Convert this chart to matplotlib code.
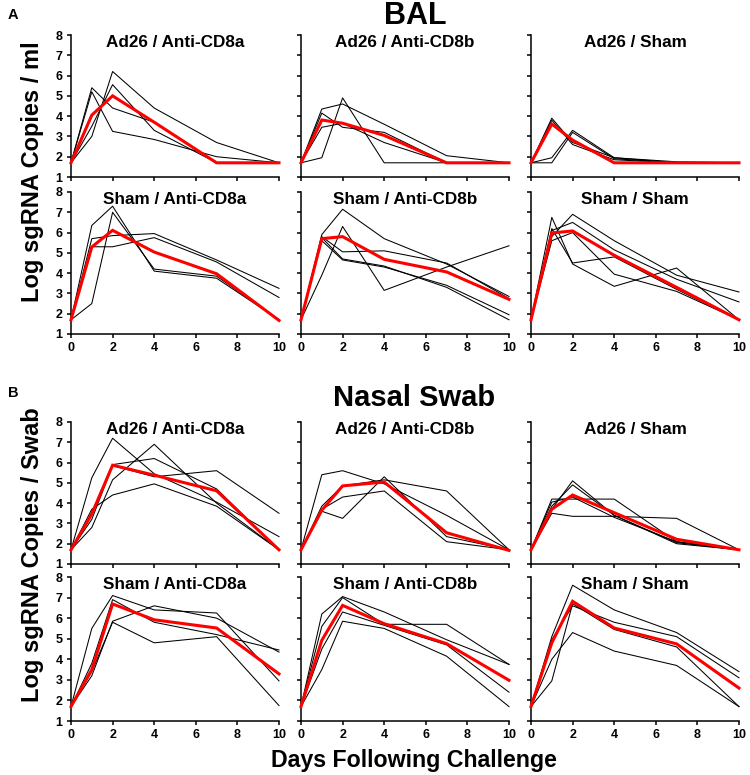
import matplotlib
matplotlib.use("Agg")
import matplotlib.pyplot as plt

plt.rcParams['font.family'] = ['Liberation Sans', 'DejaVu Sans']
plt.rcParams['font.weight'] = 'bold'

days = [0, 1, 2, 4, 7, 10]
x_ticks = [0, 2, 4, 6, 8, 10]
y_ticks = [1, 2, 3, 4, 5, 6, 7, 8]

titles = ["Ad26 / Anti-CD8a", "Ad26 / Anti-CD8b", "Ad26 / Sham",
          "Sham / Anti-CD8a", "Sham / Anti-CD8b", "Sham / Sham"]

# ---------------- BAL ----------------
bal_ad26_cd8a_animals = [
    [1.7, 5.4, 4.4, 3.7, 1.7, 1.7],
    [1.7, 5.2, 3.25, 2.85, 2.0, 1.7],
    [1.7, 3.0, 6.2, 4.4, 2.7, 1.7],
    [1.7, 3.5, 5.55, 3.3, 1.7, 1.7],
]
bal_ad26_cd8a_mean = [1.7, 4.05, 5.0, 3.7, 1.7, 1.7]

bal_ad26_cd8b_animals = [
    [1.7, 4.35, 4.6, 3.6, 2.05, 1.7],
    [1.7, 1.95, 4.9, 1.7, 1.7, 1.7],
    [1.7, 4.15, 3.45, 3.2, 1.7, 1.7],
    [1.7, 3.45, 3.65, 2.7, 1.7, 1.7],
]
bal_ad26_cd8b_mean = [1.7, 3.81, 3.65, 3.05, 1.7, 1.7]

bal_ad26_sham_animals = [
    [1.7, 3.9, 2.7, 1.95, 1.75, 1.7],
    [1.7, 3.8, 2.6, 1.85, 1.7, 1.7],
    [1.7, 1.95, 3.3, 1.95, 1.7, 1.7],
    [1.7, 1.7, 3.2, 1.9, 1.7, 1.7],
]
bal_ad26_sham_mean = [1.7, 3.61, 2.82, 1.7, 1.7, 1.7]

bal_sham_cd8a_animals = [
    [1.7, 6.35, 7.3, 4.1, 3.75, 1.7],
    [1.7, 2.5, 7.0, 4.2, 3.85, 1.7],
    [1.7, 5.7, 5.85, 5.95, 4.65, 3.25],
    [1.7, 5.3, 5.3, 5.75, 4.55, 2.8],
]
bal_sham_cd8a_mean = [1.7, 5.29, 6.11, 5.04, 3.97, 1.67]

bal_sham_cd8b_animals = [
    [1.7, 5.9, 7.15, 5.7, 4.45, 2.85],
    [1.7, 3.9, 6.3, 3.15, 4.3, 5.35],
    [1.7, 5.8, 5.05, 5.1, 4.5, 2.75],
    [1.7, 5.6, 4.65, 4.3, 3.4, 1.95],
    [1.7, 5.75, 4.7, 4.35, 3.3, 1.7],
]
bal_sham_cd8b_mean = [1.7, 5.7, 5.8, 4.68, 4.06, 2.71]

bal_sham_sham_animals = [
    [1.7, 6.75, 4.45, 3.35, 4.25, 1.7],
    [1.7, 5.8, 6.9, 5.6, 3.9, 3.07],
    [1.7, 6.1, 6.5, 5.15, 3.7, 2.58],
    [1.7, 6.2, 4.5, 4.8, 3.2, 1.7],
    [1.7, 5.6, 6.0, 3.95, 3.1, 1.7],
]
bal_sham_sham_mean = [1.7, 5.98, 6.08, 4.88, 3.3, 1.7]

# ---------------- Nasal Swab ----------------
ns_ad26_cd8a_animals = [
    [1.7, 5.25, 7.2, 5.45, 4.05, 2.35],
    [1.7, 2.8, 5.15, 6.9, 4.0, 1.7],
    [1.7, 3.5, 5.9, 6.2, 4.7, 1.7],
    [1.7, 3.7, 4.4, 4.95, 3.85, 1.7],
    [1.7, 3.2, 5.85, 5.3, 5.6, 3.5],
]
ns_ad26_cd8a_mean = [1.7, 3.47, 5.87, 5.38, 4.61, 1.7]

ns_ad26_cd8b_animals = [
    [1.7, 5.4, 5.6, 4.95, 3.4, 1.7],
    [1.7, 3.6, 3.25, 5.3, 2.35, 1.7],
    [1.7, 3.85, 4.85, 5.15, 4.6, 1.7],
    [1.7, 3.7, 4.3, 4.6, 2.1, 1.7],
]
ns_ad26_cd8b_mean = [1.7, 3.65, 4.85, 5.04, 2.54, 1.67]

ns_ad26_sham_animals = [
    [1.7, 4.2, 4.2, 4.2, 2.1, 1.7],
    [1.7, 3.5, 3.35, 3.35, 3.25, 1.7],
    [1.7, 3.7, 5.1, 3.4, 2.0, 1.7],
    [1.7, 3.85, 4.9, 3.4, 2.05, 1.7],
    [1.7, 4.05, 4.3, 3.3, 2.1, 1.7],
]
ns_ad26_sham_mean = [1.7, 3.7, 4.4, 3.53, 2.22, 1.7]

ns_sham_cd8a_animals = [
    [1.7, 5.5, 7.1, 6.4, 6.25, 2.95],
    [1.7, 3.8, 6.9, 5.8, 5.2, 4.45],
    [1.7, 3.2, 5.85, 6.6, 6.0, 4.35],
    [1.7, 3.4, 5.8, 4.8, 5.1, 1.75],
]
ns_sham_cd8a_mean = [1.7, 3.5, 6.69, 5.92, 5.52, 3.29]

ns_sham_cd8b_animals = [
    [1.7, 6.2, 7.05, 6.3, 4.95, 3.75],
    [1.7, 5.6, 7.0, 5.7, 5.7, 3.75],
    [1.7, 4.5, 6.3, 5.65, 4.7, 2.4],
    [1.7, 3.5, 5.85, 5.5, 4.15, 1.7],
]
ns_sham_cd8b_mean = [1.7, 4.92, 6.62, 5.73, 4.76, 2.98]

ns_sham_sham_animals = [
    [1.7, 5.1, 7.6, 6.4, 5.3, 3.4],
    [1.7, 4.95, 6.6, 5.8, 5.1, 3.1],
    [1.7, 2.95, 6.7, 5.45, 4.6, 1.7],
    [1.7, 4.0, 5.3, 4.4, 3.7, 1.7],
]
ns_sham_sham_mean = [1.7, 4.8, 6.82, 5.52, 4.75, 2.6]

bal_animals = [bal_ad26_cd8a_animals, bal_ad26_cd8b_animals, bal_ad26_sham_animals,
               bal_sham_cd8a_animals, bal_sham_cd8b_animals, bal_sham_sham_animals]
bal_means = [bal_ad26_cd8a_mean, bal_ad26_cd8b_mean, bal_ad26_sham_mean,
             bal_sham_cd8a_mean, bal_sham_cd8b_mean, bal_sham_sham_mean]
ns_animals = [ns_ad26_cd8a_animals, ns_ad26_cd8b_animals, ns_ad26_sham_animals,
              ns_sham_cd8a_animals, ns_sham_cd8b_animals, ns_sham_sham_animals]
ns_means = [ns_ad26_cd8a_mean, ns_ad26_cd8b_mean, ns_ad26_sham_mean,
            ns_sham_cd8a_mean, ns_sham_cd8b_mean, ns_sham_sham_mean]

W, H = 750, 775
fig = plt.figure(figsize=(7.5, 7.75), dpi=100)

col_left = [71, 301, 531]
col_w = 208
# (top, bottom) pixel rows
bal_rows = [(35, 177), (192, 334)]
ns_rows = [(422, 564), (577, 721)]


def make_panel(top, bottom, left, animals, mean, title, show_y, show_x):
    ax = fig.add_axes([left / W, 1 - bottom / H, col_w / W, (bottom - top) / H])
    for a in animals:
        ax.plot(days, a, color='black', lw=0.75, clip_on=False, zorder=2)
    ax.plot(days, mean, color='#ff0000', lw=2.2, clip_on=False, zorder=3,
            solid_joinstyle='miter')
    ax.set_xlim(0, 10)
    ax.set_ylim(1, 8)
    ax.set_xticks(x_ticks)
    ax.set_yticks(y_ticks)
    ax.spines['top'].set_visible(False)
    ax.spines['right'].set_visible(False)
    for s in ['left', 'bottom']:
        ax.spines[s].set_linewidth(1.1)
    ax.tick_params(direction='out', length=3, width=1.1, labelsize=9, pad=3)
    if not show_y:
        ax.set_yticklabels([])
    if not show_x:
        ax.set_xticklabels([])
    for lbl in ax.get_xticklabels() + ax.get_yticklabels():
        lbl.set_fontweight('bold')
    ax.text(0.5, 0.95, title, transform=ax.transAxes, ha='center', va='center',
            fontsize=12.3, fontweight='bold')
    return ax


for rows, animals_all, means_all in [(bal_rows, bal_animals, bal_means),
                                     (ns_rows, ns_animals, ns_means)]:
    for r, (top, bottom) in enumerate(rows):
        for c in range(3):
            i = r * 3 + c
            make_panel(top, bottom, col_left[c], animals_all[i], means_all[i],
                       titles[i], show_y=(c == 0), show_x=(r == 1))

fig.text(415 / W, 1 - 16 / H, "BAL", ha='center', va='center', fontsize=22, fontweight='bold')
fig.text(414 / W, 1 - 398 / H, "Nasal Swab", ha='center', va='center', fontsize=21, fontweight='bold')
fig.text(8 / W, 1 - 15 / H, "A", ha='left', va='center', fontsize=10.5, fontweight='bold')
fig.text(8 / W, 1 - 393 / H, "B", ha='left', va='center', fontsize=10.5, fontweight='bold')
fig.text(33 / W, 1 - 172 / H, "Log sgRNA Copies / ml", rotation=90, ha='center', va='center',
         fontsize=17, fontweight='bold')
fig.text(33 / W, 1 - 555 / H, "Log sgRNA Copies / Swab", rotation=90, ha='center', va='center',
         fontsize=17, fontweight='bold')
fig.text(414 / W, 1 - 760 / H, "Days Following Challenge", ha='center', va='center',
         fontsize=16.7, fontweight='bold')

fig.savefig("out.png", dpi=100)
